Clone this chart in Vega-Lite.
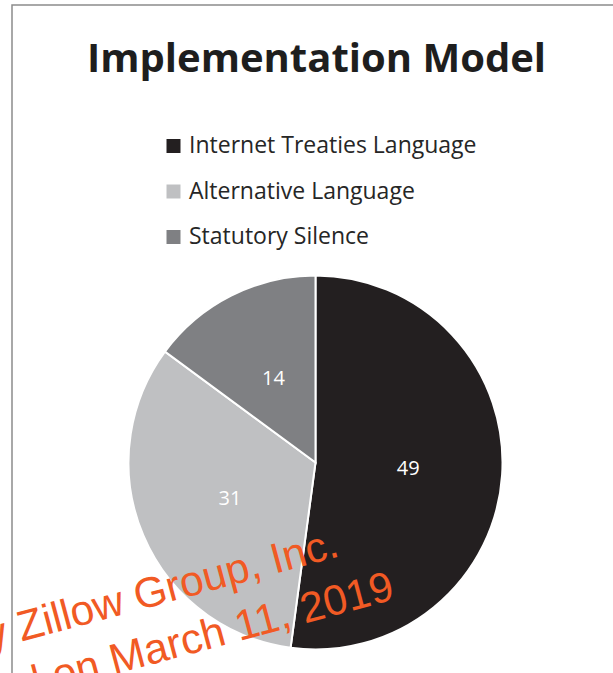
{
  "$schema": "https://vega.github.io/schema/vega-lite/v6.json",
  "autosize": "none",
  "width": 608,
  "height": 669,
  "padding": {"left": 12, "top": 5, "right": 0, "bottom": 0},
  "background": "white",
  "view": {"stroke": "#8c8c8c", "strokeWidth": 1.5},
  "config": {
    "view": {"stroke": "#8c8c8c", "strokeWidth": 1.5},
    "font": "Open Sans"
  },
  "title": {
    "text": "Implementation Model",
    "font": "Open Sans",
    "fontSize": 40,
    "fontWeight": "bold",
    "color": "#1e1e1e",
    "anchor": "start",
    "frame": "group",
    "baseline": "alphabetic",
    "offset": -107,
    "dx": 75
  },
  "layer": [
    {
      "data": {
        "values": [
          {"model": "Internet Treaties Language", "count": 49, "idx": 1},
          {"model": "Alternative Language", "count": 31, "idx": 2},
          {"model": "Statutory Silence", "count": 14, "idx": 3}
        ]
      },
      "encoding": {
        "theta": {"field": "count", "type": "quantitative", "stack": true},
        "order": {"field": "idx", "type": "quantitative"},
        "color": {
          "field": "model",
          "type": "nominal",
          "sort": ["Internet Treaties Language", "Alternative Language", "Statutory Silence"],
          "scale": {
            "domain": ["Internet Treaties Language", "Alternative Language", "Statutory Silence"],
            "range": ["#231f20", "#bfc0c2", "#7f8083"]
          },
          "legend": {
            "title": null,
            "orient": "none",
            "legendX": 150,
            "legendY": 129.5,
            "symbolType": "square",
            "symbolSize": 196,
            "symbolStrokeWidth": 0,
            "labelFont": "Open Sans",
            "labelFontSize": 23,
            "labelColor": "#262626",
            "labelOffset": 4,
            "rowPadding": 21.5,
            "labelLimit": 400
          }
        }
      },
      "layer": [
        {
          "mark": {"type": "arc", "outerRadius": 187, "stroke": "white", "strokeWidth": 2, "xOffset": -0.5, "yOffset": 123}
        },
        {
          "mark": {"type": "text", "radius": 93, "fontSize": 20, "fill": "white", "font": "Open Sans", "xOffset": -0.5, "yOffset": 123},
          "encoding": {
            "text": {"field": "count", "type": "quantitative"},
            "color": {"value": "white"}
          }
        }
      ]
    },
    {
      "data": {"values": [{"line": "Produced by Zillow Group, Inc."}]},
      "mark": {"type": "text", "x": 329, "y": 551, "align": "right", "baseline": "alphabetic", "angle": -15, "fontSize": 42.5, "font": "Liberation Sans", "fill": "#f15a24"},
      "encoding": {"text": {"field": "line"}}
    },
    {
      "data": {"values": [{"line": "Produced on March 11, 2019"}]},
      "mark": {"type": "text", "x": 384, "y": 594, "align": "right", "baseline": "alphabetic", "angle": -15, "fontSize": 42.5, "font": "Liberation Sans", "fill": "#f15a24"},
      "encoding": {"text": {"field": "line"}}
    }
  ]
}
